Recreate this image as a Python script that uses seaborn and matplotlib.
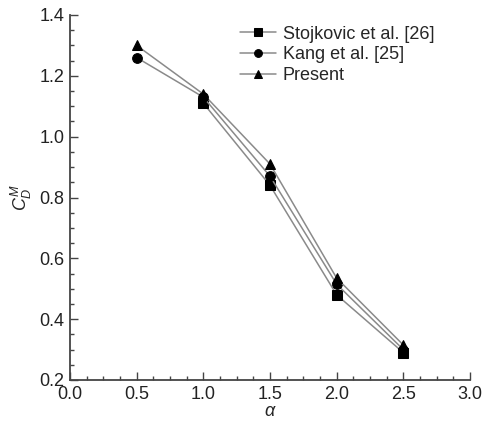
import matplotlib
matplotlib.use('Agg')
import matplotlib.pyplot as plt
import seaborn as sns
import pandas as pd
from matplotlib.ticker import MultipleLocator

# dados
alpha_stoj = [1.0, 1.5, 2.0, 2.5]
cd_stoj = [1.11, 0.84, 0.48, 0.29]
alpha_kang = [0.5, 1.0, 1.5, 2.0, 2.5]
cd_kang = [1.26, 1.13, 0.87, 0.515, 0.30]
alpha_pres = [0.5, 1.0, 1.5, 2.0, 2.5]
cd_pres = [1.30, 1.14, 0.91, 0.535, 0.315]

series = [
    ('Stojkovic et al. [26]', alpha_stoj, cd_stoj, 's'),
    ('Kang et al. [25]', alpha_kang, cd_kang, 'o'),
    ('Present', alpha_pres, cd_pres, '^'),
]

sns.set_style("ticks")
plt.rcParams['font.family'] = ['Liberation Sans', 'DejaVu Sans']
plt.rcParams['mathtext.fontset'] = 'custom'
plt.rcParams['mathtext.rm'] = 'Liberation Sans'
plt.rcParams['mathtext.it'] = 'Liberation Sans:italic'

fig = plt.figure(figsize=(4.85, 4.21), dpi=100)
ax = fig.add_axes([70 / 485, 41 / 421, 400 / 485, 365 / 421])

for label, x, y, m in series:
    df = pd.DataFrame({'alpha': x, 'cd': y})
    sns.lineplot(data=df, x='alpha', y='cd', ax=ax, color='#8a8a8a', linewidth=1.1,
                 marker=m, markersize=7, markerfacecolor='black',
                 markeredgecolor='black', label=label)

ax.set_xlim(0, 3.0)
ax.set_ylim(0.2, 1.4)
ax.xaxis.set_major_locator(MultipleLocator(0.5))
ax.xaxis.set_minor_locator(MultipleLocator(0.125))
ax.yaxis.set_major_locator(MultipleLocator(0.2))
ax.yaxis.set_minor_locator(MultipleLocator(0.05))
ax.tick_params(which='both', direction='in', width=1.0, labelsize=13,
               colors='#444444', labelcolor='#222222', pad=4)
ax.tick_params(which='major', length=6)
ax.tick_params(which='minor', length=3)
ax.set_xticks(ax.get_xticks())
ax.set_yticks(ax.get_yticks())
ax.set_xticklabels([f'{v:.1f}' for v in ax.get_xticks()])
ax.set_yticklabels([f'{v:.1f}' for v in ax.get_yticks()])
ax.set_xlim(0, 3.0)
ax.set_ylim(0.2, 1.4)
for s in ['left', 'bottom']:
    ax.spines[s].set_linewidth(1.3)
    ax.spines[s].set_color('#444444')
sns.despine(ax=ax)

ax.set_xlabel(r'$\alpha$', fontsize=13, labelpad=0)
ax.set_ylabel(r'$C_D^M$', fontsize=13, labelpad=4)

ax.legend(loc='upper left', bbox_to_anchor=(0.385, 1.015), frameon=False, fontsize=13,
          handlelength=2.0, handletextpad=0.35, labelspacing=0.2, markerscale=0.8)

fig.savefig('out.png', dpi=100)
